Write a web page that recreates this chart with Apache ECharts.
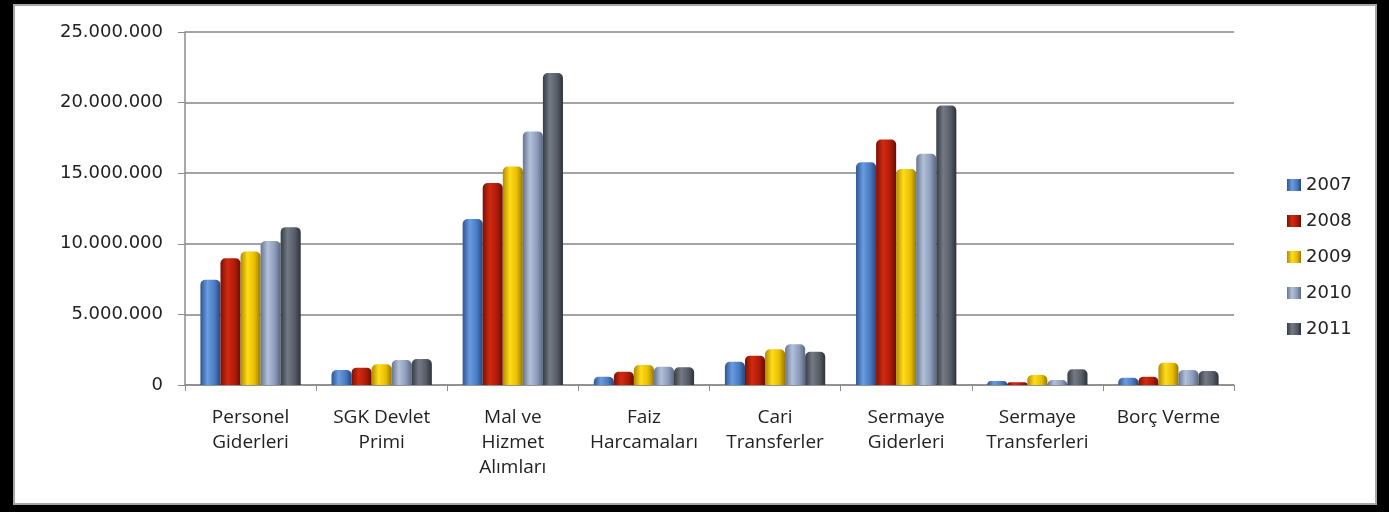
<!DOCTYPE html>
<html>
<head>
<meta charset="utf-8">
<script src="https://cdn.jsdelivr.net/npm/echarts@6/dist/echarts.min.js"></script>
<style>
  html, body { margin: 0; padding: 0; background: #000; }
  #chart { width: 1389px; height: 512px; }
</style>
</head>
<body>
<div id="chart"></div>
<script>
const categories = [
  "Personel\nGiderleri",
  "SGK Devlet\nPrimi",
  "Mal ve\nHizmet\nAlımları",
  "Faiz\nHarcamaları",
  "Cari\nTransferler",
  "Sermaye\nGiderleri",
  "Sermaye\nTransferleri",
  "Borç Verme"
];
const years = ["2007", "2008", "2009", "2010", "2011"];

const v2007 = [7450000, 1060000, 11750000, 590000, 1650000, 15770000, 280000, 520000];
const v2008 = [8980000, 1230000, 14300000, 940000, 2080000, 17380000, 190000, 590000];
const v2009 = [9450000, 1470000, 15480000, 1420000, 2530000, 15300000, 710000, 1580000];
const v2010 = [10200000, 1770000, 17960000, 1300000, 2890000, 16380000, 350000, 1060000];
const v2011 = [11180000, 1840000, 22100000, 1250000, 2360000, 19790000, 1110000, 990000];
const values = [v2007, v2008, v2009, v2010, v2011];

// cylinder shading: edge, highlight, mid, edge
const shades = [
  ["#2c5593", "#6b9be0", "#4a7cc4", "#24487e"],
  ["#7a1006", "#d22a10", "#b01c0a", "#6a0d05"],
  ["#b08a00", "#ffdc1a", "#e8bf00", "#9a7800"],
  ["#66758f", "#b3c0da", "#8d9dbb", "#5a6882"],
  ["#373c44", "#737a85", "#575e68", "#2e3238"]
];

function grad(s) {
  return new echarts.graphic.LinearGradient(0, 0, 1, 0, [
    { offset: 0, color: s[0] },
    { offset: 0.35, color: s[1] },
    { offset: 0.7, color: s[2] },
    { offset: 1, color: s[3] }
  ]);
}

function fmt(v) {
  return String(v).replace(/\B(?=(\d{3})+(?!\d))/g, ".");
}

const chart = echarts.init(document.getElementById("chart"));
chart.setOption({
  backgroundColor: "#000",
  animation: false,
  graphic: [
    {
      type: "rect",
      z: -10,
      shape: { x: 14, y: 5, width: 1362, height: 499 },
      style: { fill: "#fff", stroke: "#a6a6a6", lineWidth: 2 }
    }
  ],
  grid: { left: 185, top: 32, width: 1049, height: 353 },
  legend: {
    orient: "vertical",
    left: 1282,
    top: 171,
    itemWidth: 14,
    itemHeight: 12,
    itemGap: 18,
    icon: "rect",
    textStyle: { fontFamily: "DejaVu Sans", fontSize: 18, lineHeight: 18, color: "#222" },
    data: years
  },
  xAxis: {
    type: "category",
    data: categories,
    axisLine: { lineStyle: { color: "#8c8c8c", width: 1.5 } },
    axisTick: { show: true, length: 6, lineStyle: { color: "#8c8c8c" } },
    axisLabel: {
      interval: 0,
      margin: 20,
      fontFamily: "Open Sans",
      fontSize: 19,
      lineHeight: 25,
      color: "#222"
    }
  },
  yAxis: {
    type: "value",
    min: 0,
    max: 25000000,
    interval: 5000000,
    axisLine: { show: true, lineStyle: { color: "#8c8c8c", width: 1.5 } },
    axisTick: { show: true, length: 7, lineStyle: { color: "#8c8c8c" } },
    splitLine: { lineStyle: { color: "#a3a3a3", width: 2 } },
    axisLabel: {
      margin: 22,
      fontFamily: "DejaVu Sans",
      fontSize: 18,
      color: "#222",
      formatter: fmt
    }
  },
  series: years.map((y, i) => ({
    name: y,
    type: "bar",
    data: values[i],
    barGap: "0%",
    barCategoryGap: "23.5%",
    itemStyle: { color: grad(shades[i]), borderRadius: [5, 5, 0, 0] }
  }))
});
</script>
</body>
</html>
